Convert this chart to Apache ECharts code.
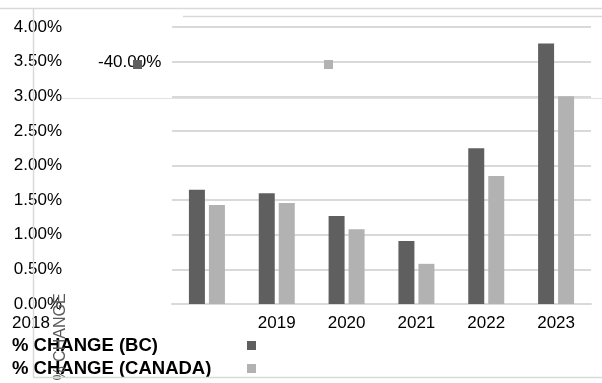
<!DOCTYPE html>
<html>
<head>
<meta charset="utf-8">
<script src="https://cdn.jsdelivr.net/npm/echarts@6/dist/echarts.min.js"></script>
<style>
  html, body { margin: 0; padding: 0; background: #fff; }
  #chart { width: 602px; height: 383px; }
</style>
</head>
<body>
<div id="chart"></div>
<script>
// Year-over-year % change, British Columbia vs. Canada
const categories = ['2018', '2019', '2020', '2021', '2022', '2023'];
const changeBC = [1.65, 1.60, 1.27, 0.91, 2.25, 3.76];
const changeCanada = [1.43, 1.46, 1.08, 0.58, 1.85, 3.00];
const seriesNames = ['% CHANGE (BC)', '% CHANGE (CANADA)'];
const axisTitle = '% CHANGE';
const secondaryTick = '-40.00%';

const FONT = '"Liberation Sans", Arial, sans-serif';
const GRID_COLOR = '#d9d9d9';
const DARK = '#5f5f5f';
const LIGHT = '#b2b2b2';

const chart = echarts.init(document.getElementById('chart'), null, { renderer: 'canvas' });

// The first year label sits off to the far left of the axis
const xData = categories.map((c, i) => i === 0
  ? { value: c, textStyle: { align: 'right', padding: [0, 157, 0, 0] } }
  : c);

// One key row per series: name on the left, swatch on the right
const keyRow = (name, top) => ({
  orient: 'vertical',
  left: 12,
  top: top,
  padding: 0,
  align: 'right',
  itemWidth: 9,
  itemHeight: 9,
  icon: 'rect',
  selectedMode: false,
  data: [name],
  formatter: n => '{t|' + n + '}',
  textStyle: {
    color: '#000',
    rich: {
      t: { fontSize: 18.5, fontWeight: 'bold', fontFamily: FONT, color: '#000', width: 230, align: 'left', lineHeight: 14 }
    }
  }
});

chart.setOption({
  animation: false,
  backgroundColor: '#fff',
  textStyle: { fontFamily: FONT },
  grid: { left: 172, right: 11, top: 27, bottom: 79, containLabel: false },
  xAxis: {
    type: 'category',
    data: xData,
    axisLine: { show: true, lineStyle: { color: GRID_COLOR, width: 2 } },
    axisTick: { show: false },
    axisLabel: { color: '#000', fontSize: 17, fontFamily: FONT, margin: 11 }
  },
  yAxis: {
    type: 'value',
    min: 0,
    max: 4,
    interval: 0.5,
    axisLine: { show: false },
    axisTick: { show: false },
    splitLine: { lineStyle: { color: GRID_COLOR, width: 2 } },
    axisLabel: {
      color: '#000', fontSize: 17, fontFamily: FONT, margin: 110,
      formatter: v => v.toFixed(2) + '%'
    }
  },
  legend: [
    keyRow(seriesNames[0], 336),
    keyRow(seriesNames[1], 359),
    {
      // swatch-only key near the top
      orient: 'horizontal',
      left: 128,
      top: 55,
      itemWidth: 9,
      itemHeight: 9,
      itemGap: 182,
      icon: 'rect',
      selectedMode: false,
      data: seriesNames,
      formatter: () => '',
      textStyle: { fontSize: 1 }
    }
  ],
  series: [
    {
      name: seriesNames[0],
      type: 'bar',
      data: changeBC,
      barWidth: 16,
      barGap: '25%',
      itemStyle: { color: DARK },
      z: 2
    },
    {
      name: seriesNames[1],
      type: 'bar',
      data: changeCanada,
      barWidth: 16,
      itemStyle: { color: LIGHT },
      z: 2
    }
  ],
  graphic: [
    {
      type: 'text', left: 98, top: 54, z: 0,
      style: { text: secondaryTick, fontSize: 17, fontFamily: FONT, fill: '#000' }
    },
    {
      type: 'text', x: 61, y: 337, rotation: Math.PI / 2, z: 10,
      style: { text: axisTitle, fontSize: 16, fontFamily: FONT, fill: '#595959', align: 'center', verticalAlign: 'middle' }
    },
    // chart frame
    { type: 'line', z: 20, shape: { x1: 0, y1: 8.5, x2: 602, y2: 8.5 }, style: { stroke: GRID_COLOR, lineWidth: 1.5 } },
    { type: 'line', z: 20, shape: { x1: 33.5, y1: 8, x2: 33.5, y2: 377 }, style: { stroke: GRID_COLOR, lineWidth: 1.5 } },
    { type: 'line', z: 20, shape: { x1: 33, y1: 377.5, x2: 602, y2: 377.5 }, style: { stroke: GRID_COLOR, lineWidth: 1.5 } },
    { type: 'line', z: 1, shape: { x1: 183, y1: 16.5, x2: 602, y2: 16.5 }, style: { stroke: GRID_COLOR, lineWidth: 1.5 } },
    { type: 'line', z: 1, shape: { x1: 62, y1: 98.5, x2: 602, y2: 98.5 }, style: { stroke: '#e2e2e2', lineWidth: 1 } }
  ]
});
</script>
</body>
</html>
